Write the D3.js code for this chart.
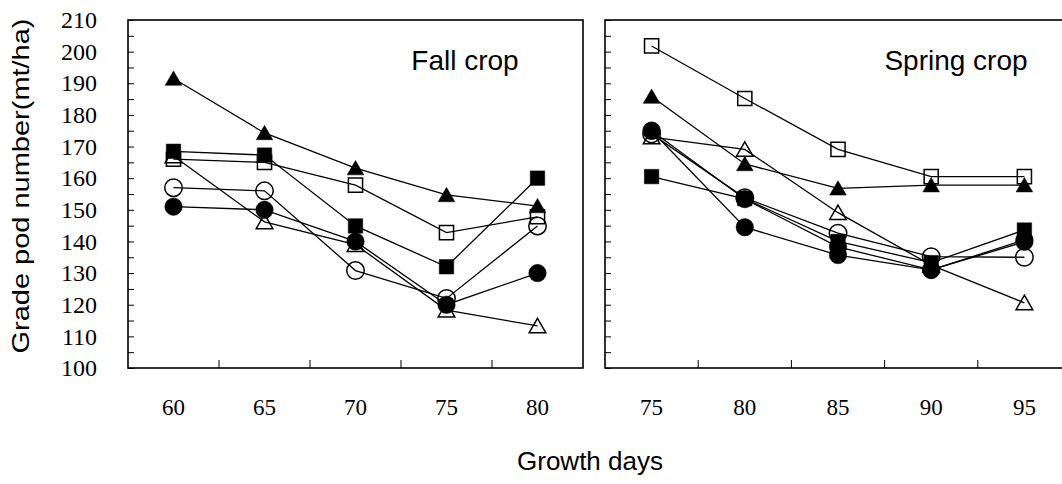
<!DOCTYPE html>
<html>
<head>
<meta charset="utf-8">
<script src="https://cdn.jsdelivr.net/npm/d3@7"></script>
<style>
  body { margin: 0; background: #fff; }
  svg { display: block; }
</style>
</head>
<body>
<div id="chart"></div>
<script>
// data
var fallDays = ["60", "65", "70", "75", "80"];
var springDays = ["75", "80", "85", "90", "95"];
var yTicks = d3.range(100, 211, 5);

// fall crop series
var fallOpenSquare   = [166, 165, 157.8, 142.8, 147.8];
var fallFilledTri    = [191.5, 174.3, 163.2, 154.7, 151.2];
var fallOpenTri      = [167, 146.2, 139, 118.3, 113.3];
var fallOpenCircle   = [157, 156, 130.8, 122, 144.9];
var fallFilledSquare = [168.5, 167.3, 144.9, 132, 160];
var fallFilledCircle = [151, 150, 140, 120, 130];

// spring crop series
var springOpenSquare   = [201.8, 185.2, 169.1, 160.5, 160.5];
var springFilledTri    = [185.8, 164.5, 156.8, 157.8, 157.8];
var springOpenTri      = [173, 169.1, 149.1, 132.5, 120.6];
var springOpenCircle   = [174, 153.8, 142.6, 135.2, 135];
var springFilledSquare = [160.5, 153.5, 140, 133.3, 143.6];
var springFilledCircle = [175, 153.4, 138.3, 131, 139.9];
var springFilledCircle2 = [175, 144.5, 135.7, 131, 140.5];

var width = 1062, height = 484;
var top0 = 20, bottom0 = 368;

var svg = d3.select("#chart").append("svg")
    .attr("width", width)
    .attr("height", height);

var y = d3.scaleLinear().domain([100, 210]).range([bottom0, top0]);

function panel(x0, x1, days, series, title, titleX, showLabels) {
  var x = d3.scaleBand().domain(days).range([x0, x1]).padding(0);
  var g = svg.append("g");

  // y ticks (inward)
  var yAxis = d3.axisLeft(y).tickValues(yTicks).tickSizeInner(-6).tickSizeOuter(0)
      .tickPadding(31)
      .tickFormat(function(d) { return (showLabels && d % 10 === 0) ? d : ""; });
  var ya = g.append("g").attr("transform", "translate(" + x0 + ",0)").call(yAxis);
  ya.select(".domain").remove();
  ya.selectAll("line").attr("stroke", "#000").attr("stroke-width", 1);
  ya.selectAll("text")
    .style("font-family", "'Liberation Serif', 'Times New Roman', serif")
    .style("font-size", "24px").attr("fill", "#000");

  // x ticks at band edges
  g.selectAll(".xt").data(days.slice(1)).enter().append("line")
    .attr("x1", function(d) { return x(d); })
    .attr("x2", function(d) { return x(d); })
    .attr("y1", bottom0).attr("y2", bottom0 - 8)
    .attr("stroke", "#000").attr("stroke-width", 1);

  var xAxis = d3.axisBottom(x).tickSize(0).tickPadding(31);
  var xa = g.append("g").attr("transform", "translate(0," + bottom0 + ")").call(xAxis);
  xa.select(".domain").remove();
  xa.selectAll("text")
    .style("font-family", "'Liberation Serif', 'Times New Roman', serif")
    .style("font-size", "23px").attr("fill", "#000");

  // frame
  g.append("rect")
    .attr("x", x0).attr("y", top0)
    .attr("width", x1 - x0).attr("height", bottom0 - top0)
    .attr("fill", "none").attr("stroke", "#000").attr("stroke-width", 1.6);

  var line = d3.line()
    .x(function(d, i) { return x(days[i]) + x.bandwidth() / 2; })
    .y(function(d) { return y(d); });

  series.forEach(function(s) {
    g.append("path").datum(s.values)
      .attr("d", line)
      .attr("fill", "none").attr("stroke", "#000").attr("stroke-width", 1.3);
  });
  series.forEach(function(s) {
    var sym = d3.symbol().type(s.shape).size(s.size);
    g.selectAll(null).data(s.values).enter().append("path")
      .attr("d", sym)
      .attr("transform", function(d, i) {
        var dy = s.shape === d3.symbolTriangle ? 2 : 0;
        return "translate(" + (x(days[i]) + x.bandwidth() / 2) + "," + (y(d) + dy) + ")";
      })
      .attr("fill", s.filled ? "#000" : "none")
      .attr("stroke", "#000").attr("stroke-width", s.filled ? 0.5 : 1.5);
  });

  g.append("text")
    .attr("x", titleX).attr("y", 70)
    .attr("text-anchor", "middle")
    .style("font-family", "'Liberation Sans', Arial, sans-serif")
    .style("font-size", "28px")
    .text(title);
}

var tri = d3.symbolTriangle, sq = d3.symbolSquare, ci = d3.symbolCircle;

panel(128, 583, fallDays, [
  {values: fallOpenSquare, shape: sq, size: 200, filled: false},
  {values: fallFilledTri, shape: tri, size: 120, filled: true},
  {values: fallOpenTri, shape: tri, size: 120, filled: false},
  {values: fallOpenCircle, shape: ci, size: 240, filled: false},
  {values: fallFilledSquare, shape: sq, size: 210, filled: true},
  {values: fallFilledCircle, shape: ci, size: 240, filled: true}
], "Fall crop", 465, true);

panel(605, 1071, springDays, [
  {values: springOpenSquare, shape: sq, size: 200, filled: false},
  {values: springFilledTri, shape: tri, size: 120, filled: true},
  {values: springOpenTri, shape: tri, size: 120, filled: false},
  {values: springOpenCircle, shape: ci, size: 240, filled: false},
  {values: springFilledSquare, shape: sq, size: 210, filled: true},
  {values: springFilledCircle, shape: ci, size: 240, filled: true},
  {values: springFilledCircle2, shape: ci, size: 240, filled: true}
], "Spring crop", 956, false);

// axis titles
svg.append("text")
  .attr("transform", "translate(29,186) rotate(-90)")
  .attr("text-anchor", "middle")
  .attr("textLength", 335)
  .attr("lengthAdjust", "spacingAndGlyphs")
  .style("font-family", "'Liberation Sans', Arial, sans-serif")
  .style("font-size", "24px")
  .text("Grade pod number(mt/ha)");

svg.append("text")
  .attr("x", 590).attr("y", 470)
  .attr("text-anchor", "middle")
  .style("font-family", "'Liberation Sans', Arial, sans-serif")
  .style("font-size", "26px")
  .text("Growth days");
</script>
</body>
</html>
